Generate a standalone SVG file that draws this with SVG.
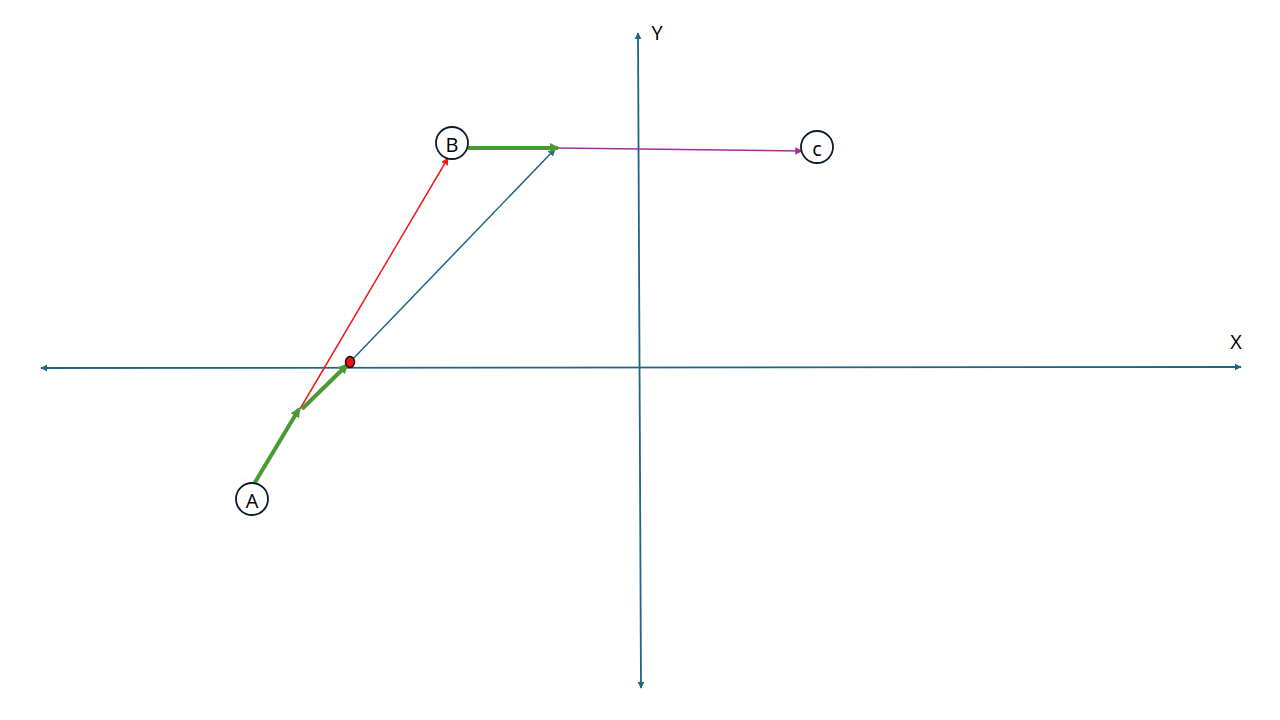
<svg xmlns="http://www.w3.org/2000/svg" width="1280" height="720" viewBox="0 0 1280 720">
<defs>
<marker id="ab" viewBox="0 0 10 10" refX="9" refY="5" markerWidth="4" markerHeight="4" orient="auto-start-reverse" markerUnits="strokeWidth"><path d="M0,0L10,5L0,10z" fill="#1f6584"/></marker>
<marker id="ar" viewBox="0 0 10 10" refX="9" refY="5" markerWidth="5" markerHeight="5" orient="auto" markerUnits="strokeWidth"><path d="M0,0L10,5L0,10z" fill="#f01a1a"/></marker>
<marker id="at" viewBox="0 0 10 10" refX="9" refY="5" markerWidth="5" markerHeight="5" orient="auto" markerUnits="strokeWidth"><path d="M0,0L10,5L0,10z" fill="#1f6584"/></marker>
<marker id="ag" viewBox="0 0 10 10" refX="8" refY="5" markerWidth="2.5" markerHeight="2.5" orient="auto" markerUnits="strokeWidth"><path d="M0,0L10,5L0,10z" fill="#4a9a34"/></marker>
<marker id="ap" viewBox="0 0 10 10" refX="9" refY="5" markerWidth="5" markerHeight="5" orient="auto" markerUnits="strokeWidth"><path d="M0,0L10,5L0,10z" fill="#a0309a"/></marker>
</defs>
<style>
.axis{stroke:#1f6584;stroke-width:1.8;fill:none}
.node circle{fill:#fff;stroke:#0d1b2a;stroke-width:1.8}
.node text,.lbl{font-family:"Open Sans","Liberation Sans",sans-serif;font-size:20px;fill:#000;text-anchor:middle;dominant-baseline:central}
.g{stroke:#4a9a34;stroke-width:4;fill:none}
</style>
<rect width="1280" height="720" fill="#fff"/>
<g id="axes">
<line class="axis" x1="41" y1="368" x2="1241" y2="367" marker-start="url(#ab)" marker-end="url(#ab)"/>
<line class="axis" x1="638" y1="33" x2="641" y2="688" marker-start="url(#ab)" marker-end="url(#ab)"/>
<text class="lbl" x="1236" y="341">X</text>
<text class="lbl" x="657" y="32">Y</text>
</g>
<g id="connectors">
<line x1="300" y1="409" x2="448" y2="158" stroke="#f01a1a" stroke-width="1.5" marker-end="url(#ar)"/>
<line x1="350" y1="362" x2="555" y2="149" stroke="#1f6584" stroke-width="1.5" marker-end="url(#at)"/>
<line x1="558" y1="148" x2="802" y2="151" stroke="#a0309a" stroke-width="1.5" marker-end="url(#ap)"/>
<line class="g" x1="254" y1="484" x2="299" y2="409" marker-end="url(#ag)"/>
<line class="g" x1="302" y1="409" x2="347" y2="365" marker-end="url(#ag)"/>
<line class="g" x1="468" y1="148" x2="558" y2="148" marker-end="url(#ag)"/>
</g>
<g id="point"><ellipse cx="350" cy="362" rx="4.5" ry="5.5" fill="#ee1111" stroke="#111" stroke-width="1.5"/></g>
<g id="A" class="node"><circle cx="252" cy="499" r="16"/><text x="252" y="500">A</text></g>
<g id="B" class="node"><circle cx="452" cy="143" r="16"/><text x="452" y="144">B</text></g>
<g id="C" class="node"><circle cx="817" cy="147" r="16"/><text x="817" y="148">c</text></g>
</svg>
